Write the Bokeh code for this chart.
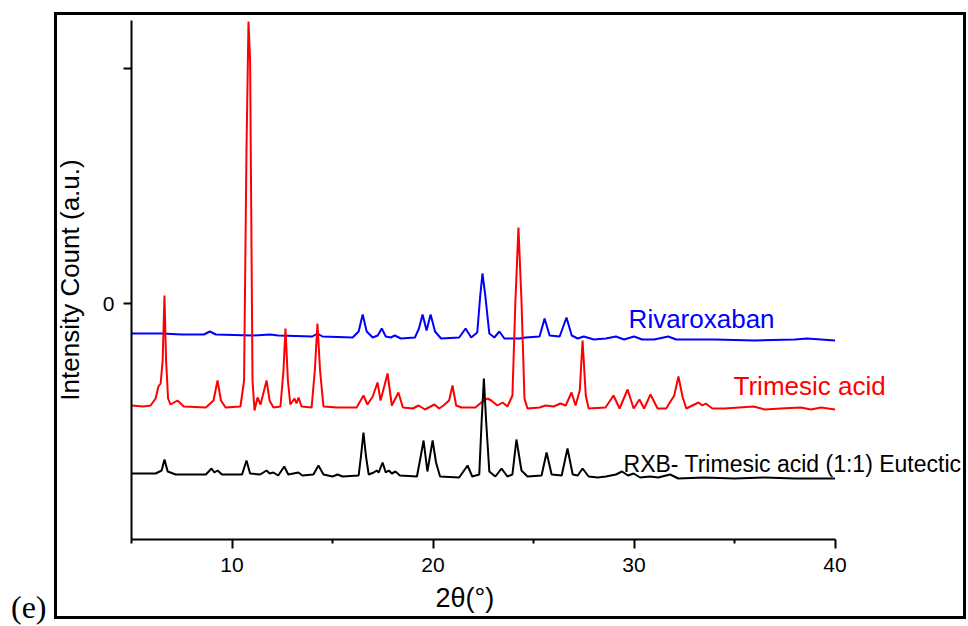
from bokeh.plotting import figure
from bokeh.layouts import column
from bokeh.models import Range1d, FixedTicker, Label, Title, Div
from bokeh.embed import file_html
from bokeh.resources import INLINE

# Powder XRD patterns (2-theta in degrees, intensity in counts, stacked with offsets)
two_theta_rxb = [5.0, 6.5, 7.5, 8.6, 8.9, 9.2, 11.0, 11.9, 12.3, 14.0, 14.25, 14.5,
                 16.0, 16.3, 16.5, 16.7, 17.0, 17.25, 17.45, 17.65, 17.9, 18.1, 18.4,
                 19.1, 19.3, 19.48, 19.68, 19.88, 20.1, 20.4, 21.3, 21.62, 21.9, 22.2,
                 22.35, 22.46, 22.6, 22.8, 23.05, 23.3, 23.55, 24.3, 24.6, 25.3, 25.55,
                 25.8, 26.3, 26.64, 26.9, 27.2, 27.5, 28.0, 28.6, 29.1, 29.5, 30.0, 30.4,
                 31.0, 31.7, 32.1, 34.0, 36.0, 38.0, 38.6, 40.0]
intensity_rxb = [-600, -600, -620, -620, -560, -620, -640, -620, -640, -660, -600, -660,
                 -680, -560, -220, -560, -680, -640, -500, -660, -680, -640, -700,
                 -680, -500, -220, -540, -220, -560, -700, -680, -500, -680, -580,
                 160, 600, 160, -600, -680, -560, -700, -700, -680, -660, -300,
                 -640, -660, -280, -640, -700, -660, -720, -700, -660, -720, -660, -720,
                 -720, -660, -720, -720, -740, -720, -700, -740]

two_theta_tma = [5.0, 5.6, 5.95, 6.2, 6.34, 6.45, 6.55, 6.64, 6.72, 6.82, 6.94, 7.29,
                 7.6, 8.7, 9.08, 9.28, 9.45, 9.68, 10.42, 10.6, 10.72, 10.82, 10.9, 11.02,
                 11.12, 11.27, 11.42, 11.72, 11.87, 12.06, 12.41, 12.56, 12.66, 12.78,
                 12.9, 13.11, 13.21, 13.31, 13.46, 13.96, 14.12, 14.25, 14.38, 14.55,
                 15.25, 16.2, 16.54, 16.74, 17.0, 17.24, 17.39, 17.74, 17.95, 18.28,
                 18.5, 19.0, 19.28, 19.6, 20.07, 20.3, 20.52, 20.8, 20.97, 21.15, 21.42,
                 22.11, 22.4, 22.71, 22.9, 23.2, 23.46, 23.7, 23.95, 24.1, 24.25, 24.4,
                 24.55, 24.7, 25.3, 25.6, 26.0, 26.34, 26.6, 26.89, 27.09, 27.3, 27.44,
                 27.6, 27.74, 28.58, 28.98, 29.28, 29.68, 29.98, 30.27, 30.5, 30.82,
                 31.17, 31.6, 32.0, 32.21, 32.41, 32.6, 33.21, 33.4, 33.56, 33.9, 34.5,
                 35.95, 36.5, 37.3, 38.3, 38.8, 39.3, 40.0]
intensity_tma = [-2040, -2060, -2040, -1900, -1660, -1600, -1140, 160, -1140, -1900, -2020, -1940,
                 -2060, -2080, -1940, -1540, -1940, -2080, -2060, -1540, 3060, 5640, 4860, -1540,
                 -2140, -1880, -2020, -1540, -1940, -2080, -2060, -1340, -500, -1540,
                 -2020, -1900, -2000, -1880, -2060, -2080, -1340, -400, -1340, -2060,
                 -2080, -2080, -1840, -2020, -1860, -1580, -1940, -1400, -2040, -1780,
                 -2080, -2100, -2040, -2120, -2020, -2100, -2040, -1940, -1640, -2040, -2080,
                 -2080, -1980, -1900, -1940, -2040, -1980, -2060, -1840, 60, 1520, 60,
                 -1900, -2100, -2080, -2040, -2060, -2000, -2040, -1780, -2040, -1740, -740,
                 -1840, -2100, -2080, -1840, -2100, -1720, -2100, -1920, -2100, -1820,
                 -2100, -2100, -1840, -1460, -1860, -2100, -1980, -2040, -2000, -2100, -2100,
                 -2060, -2120, -2100, -2080, -2120, -2080, -2120]

two_theta_eut = [5.0, 6.2, 6.5, 6.64, 6.8, 7.2, 8.7, 8.98, 9.12, 9.28, 9.5, 10.5, 10.72,
                 10.9, 11.4, 11.72, 11.87, 12.06, 12.3, 12.6, 12.8, 13.3, 13.5, 14.05,
                 14.3, 14.55, 15.0, 15.25, 15.5, 16.3, 16.42, 16.54, 16.66, 16.8, 17.05,
                 17.2, 17.3, 17.49, 17.65, 17.8, 17.95, 18.13, 18.35, 19.2, 19.35, 19.53,
                 19.72, 19.98, 20.15, 20.35, 21.3, 21.72, 21.95, 22.3, 22.42, 22.53, 22.64,
                 22.8, 23.1, 23.41, 23.7, 23.95, 24.15, 24.4, 24.7, 25.4, 25.65, 25.9,
                 26.4, 26.69, 26.95, 27.2, 27.44, 27.74, 28.2, 28.6, 29.1, 29.4, 29.7,
                 29.98, 30.3, 30.8, 31.2, 31.8, 32.2, 33.5, 35.0, 36.5, 38.0, 40.0]
intensity_eut = [-3400, -3400, -3340, -3120, -3360, -3420, -3420, -3300, -3380, -3340, -3420, -3420, -3140,
                 -3400, -3420, -3340, -3400, -3380, -3440, -3260, -3420, -3380, -3440, -3420,
                 -3240, -3420, -3460, -3420, -3460, -3440, -3040, -2580, -3040, -3420, -3380,
                 -3340, -3380, -3180, -3380, -3340, -3400, -3360, -3440, -3460, -3140, -2740,
                 -3360, -2740, -3180, -3460, -3480, -3240, -3460, -3420, -2340, -1500, -2340,
                 -3360, -3460, -3300, -3460, -3420, -2720, -3340, -3460, -3440, -2980, -3420,
                 -3440, -2900, -3420, -3440, -3300, -3460, -3480, -3460, -3420, -3360, -3440,
                 -3400, -3480, -3460, -3480, -3420, -3500, -3480, -3500, -3480, -3500, -3500]

x_major_ticks = [10, 20, 30, 40]
x_minor_ticks = [5, 15, 25, 35]
y_ticks = [0, 4700]
y_tick_labels = {0: "0", 4700: ""}

# the frame runs on to the right so the series names fit; the axis stops at 40
p = figure(width=968, height=626, output_backend="svg", toolbar_location=None,
           x_range=Range1d(5, 46.44), y_range=Range1d(-4720, 5660),
           min_border_left=131, min_border_right=4,
           min_border_top=20, min_border_bottom=87)
p.grid.visible = False
p.outline_line_color = None
p.background_fill_color = "white"
p.border_fill_color = "white"

p.line(two_theta_rxb, intensity_rxb, line_color="#0000ff", line_width=2)
p.line(two_theta_tma, intensity_tma, line_color="#ff0000", line_width=2)
p.line(two_theta_eut, intensity_eut, line_color="#000000", line_width=2)

# x axis
xa = p.xaxis[0]
xa.bounds = (5, 40)
xa.ticker = FixedTicker(ticks=x_major_ticks, minor_ticks=x_minor_ticks)
xa.axis_line_width = 2
xa.major_tick_line_width = 2
xa.minor_tick_line_width = 2
xa.major_tick_out = 9
xa.major_tick_in = 0
xa.minor_tick_out = 4
xa.minor_tick_in = 0
xa.major_label_text_font = "Liberation Sans"
xa.major_label_text_font_size = "21px"
xa.major_label_text_color = "black"
xa.major_label_standoff = 9

# y axis
ya = p.yaxis[0]
ya.ticker = FixedTicker(ticks=y_ticks)
ya.major_label_overrides = y_tick_labels
ya.axis_line_width = 2
ya.major_tick_line_width = 2
ya.major_tick_out = 8
ya.major_tick_in = 0
ya.minor_tick_line_color = None
ya.major_label_text_font = "Liberation Sans"
ya.major_label_text_font_size = "21px"
ya.major_label_text_color = "black"
ya.major_label_standoff = 9
ya.axis_label = "Intensity Count (a.u.)"
ya.axis_label_text_font = "Liberation Sans"
ya.axis_label_text_font_size = "26px"
ya.axis_label_text_font_style = "normal"
ya.axis_label_text_color = "black"
ya.axis_label_standoff = 15

# x axis title
p.add_layout(Title(text="2θ(°)", align="left", offset=304, standoff=12,
                   text_font="Liberation Sans", text_font_size="27px",
                   text_font_style="normal", text_color="black"), "below")

# series names
p.add_layout(Label(x=29.73, y=-300, text="Rivaroxaban", text_color="#0000ff",
                   text_font="Liberation Sans", text_font_size="26px",
                   text_baseline="alphabetic"))
p.add_layout(Label(x=34.95, y=-1640, text="Trimesic acid", text_color="#ff0000",
                   text_font="Liberation Sans", text_font_size="26px",
                   text_baseline="alphabetic"))
p.add_layout(Label(x=29.48, y=-3200, text="RXB- Trimesic acid (1:1) Eutectic",
                   text_color="#000000", text_font="Liberation Sans",
                   text_font_size="23px", text_baseline="alphabetic"))

# panel tag and the frame around the panel
tag = Div(text="(e)", styles={"position": "absolute", "left": "11px", "top": "591px",
                              "font-family": "Liberation Serif", "font-size": "32px",
                              "line-height": "32px", "color": "black", "margin": "0"})
frame = Div(text="", styles={"position": "absolute", "left": "54px", "top": "12px",
                             "width": "906px", "height": "601px",
                             "border": "3px solid black", "box-sizing": "content-box",
                             "pointer-events": "none", "margin": "0"})

page = column(p, tag, frame)

open("out.html", "w").write(file_html(page, INLINE))
